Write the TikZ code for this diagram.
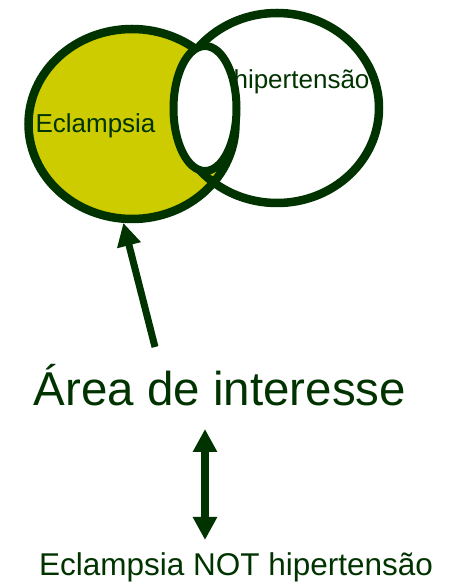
\documentclass[tikz,border=0pt]{standalone}
\usepackage{fontspec}
\setmainfont{Liberation Sans}
\usepackage{tikz}
\usetikzlibrary{ arrows.meta, shapes.geometric, positioning }
\definecolor{setline}{HTML}{003300}
\definecolor{setfill}{HTML}{CCCC00}
\tikzset{
>={Triangle[length=23pt,width=23pt]}, % big filled heads
set/.style={ellipse, draw=setline, line width=8.5pt, inner sep=0pt}, % the two sets
tag/.style={text=setline, inner sep=0pt, anchor=base},
pointer/.style={->, draw=setline, line width=7pt},
}

\begin{document}
\begin{tikzpicture}[x=1pt, y=1pt]
  \useasboundingbox (0,0) rectangle (448,584);

  \node[set, fill=setfill, minimum width=207pt, minimum height=190pt] (ecl) at (132,460) {};
  \node[set, minimum width=204pt, minimum height=190pt] (hyp) at (277,476) {};
  \node[set, fill=white, line width=8pt, minimum width=63pt, minimum height=125pt] (both) at (205,475.5) {};

  \node[tag, font=\fontsize{26}{28}\selectfont] (ecltxt) at (95.5,451) {Eclampsia};
  \node[tag, font=\fontsize{26}{28}\selectfont] (hyptxt) at (301.5,495) {hipertensão};

  \node[tag, font=\fontsize{47.5}{50}\selectfont] (area) at (220,178) {Área de interesse};
  \node[tag, font=\fontsize{31.5}{34}\selectfont] (nothyp) at (236,9) {Eclampsia NOT hipertensão};

  \coordinate (ptr) at (155,237);
  \draw[pointer] (ptr) -- (ecl.265);
  \draw[pointer, <->, line width=8pt]
    ([xshift=-15pt,yshift=-23pt]area.base) -- ([xshift=-31pt,yshift=35pt]nothyp.base);
\end{tikzpicture}
\end{document}
